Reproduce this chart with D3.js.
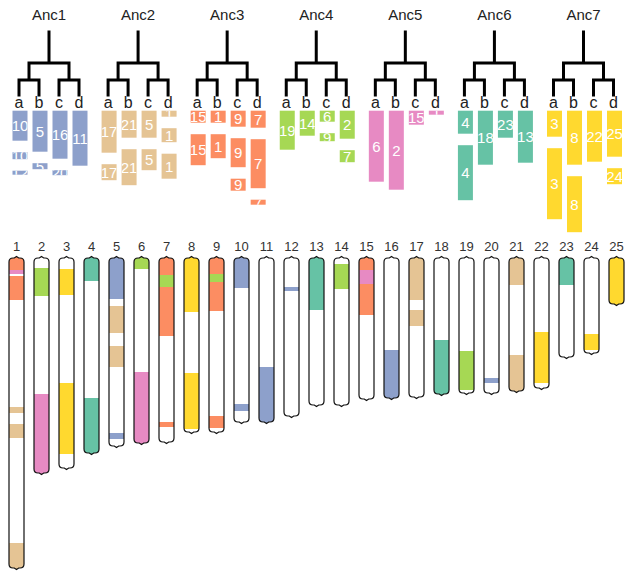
<!DOCTYPE html>
<html>
<head>
<meta charset="utf-8">
<script src="https://cdn.jsdelivr.net/npm/d3@7"></script>
<style>
  html, body { margin: 0; padding: 0; background: #fff; }
  svg { display: block; font-family: "Liberation Sans", Arial, Helvetica, sans-serif; }
</style>
</head>
<body>
<div id="chart"></div>
<script>
// ---------- data ----------
const chromosomes = ["1","2","3","4","5","6","7","8","9","10","11","12","13","14","15","16","17","18","19","20","21","22","23","24","25"];
const chromLengths = [310,215,210,195,188,185,184,174,174,164,164,158,147,147,141,140,139,136,135,135,133,130,99,95,46];

const ancestors = ["Anc1","Anc2","Anc3","Anc4","Anc5","Anc6","Anc7"];
const ancColors = ["#8DA0CB","#E5C494","#FC8D62","#A6D854","#E78AC3","#66C2A5","#FFD92F"];
const leafNames = ["a","b","c","d"];

// segments: [chromosome, ancestor, start, end]
const segAnc1 = [["5","Anc1",0,41],["5","Anc1",175,181],["10","Anc1",0,30],["10","Anc1",146,153],["11","Anc1",109,164],["12","Anc1",29,33],["16","Anc1",92,140],["20","Anc1",120,125]];
const segAnc2 = [["1","Anc2",149,155],["1","Anc2",166,180],["1","Anc2",285,310],["5","Anc2",48,75],["5","Anc2",88,109],["17","Anc2",0,42],["17","Anc2",52,68],["21","Anc2",0,27],["21","Anc2",97,133]];
const segAnc3 = [["1","Anc3",0,12],["1","Anc3",18,42],["7","Anc3",0,17],["7","Anc3",29,78],["7","Anc3",164,169],["9","Anc3",0,16],["9","Anc3",24,53],["9","Anc3",158,170],["15","Anc3",0,12],["15","Anc3",26,57]];
const segAnc4 = [["2","Anc4",10,38],["6","Anc4",0,11],["7","Anc4",17,29],["9","Anc4",16,24],["14","Anc4",6,31],["19","Anc4",93,132]];
const segAnc5 = [["1","Anc5",12,16],["2","Anc5",136,215],["6","Anc5",114,185],["15","Anc5",12,26]];
const segAnc6 = [["4","Anc6",0,23],["4","Anc6",140,195],["13","Anc6",0,52],["18","Anc6",82,136],["23","Anc6",0,27]];
const segAnc7 = [["3","Anc7",11,37],["3","Anc7",125,196],["8","Anc7",0,54],["8","Anc7",115,171],["22","Anc7",74,125],["24","Anc7",76,92],["25","Anc7",0,46]];

// which modern chromosomes make up each leaf (a,b,c,d) of each ancestor
const leavesAnc1 = [["10","12"],["5"],["16","20"],["11"]];
const leavesAnc2 = [["17"],["21"],["5"],["1"]];
const leavesAnc3 = [["15"],["1"],["9"],["7"]];
const leavesAnc4 = [["19"],["14"],["6","9"],["2","7"]];
const leavesAnc5 = [["6"],["2"],["15"],["1"]];
const leavesAnc6 = [["4"],["18"],["23"],["13"]];
const leavesAnc7 = [["3"],["8"],["22"],["25","24"]];

// ---------- derived tables ----------
const segments = [].concat(segAnc1, segAnc2, segAnc3, segAnc4, segAnc5, segAnc6, segAnc7)
  .map(d => ({chr: d[0], anc: d[1], start: d[2], end: d[3]}));
const leafTable = [leavesAnc1, leavesAnc2, leavesAnc3, leavesAnc4, leavesAnc5, leavesAnc6, leavesAnc7];

// ---------- layout ----------
const W = 633, H = 580;
const svg = d3.select("#chart").append("svg").attr("width", W).attr("height", H);
const defs = svg.append("defs");
const color = d3.scaleOrdinal().domain(ancestors).range(ancColors);

const unit = 1; // px per length unit
const chromX = d3.scalePoint().domain(chromosomes).range([16.5, 616.5]);
const chromTop = 258;
const yChrom = d3.scaleLinear().domain([0, 310]).range([chromTop, chromTop + 310 * unit]);
const chromW = 15;

// ---------- top: dendrograms ----------
const ancX = d3.scalePoint().domain(ancestors).range([49, 583.5]);
const leafX = d3.scalePoint().domain(leafNames).range([-30, 30]);
const levelY = [32, 63, 80, 95];
const blockTop = 110.7;
const blockGap = 11.5;
const yBlock = d3.scaleLinear().domain([0, 1]).range([0, unit]);
let clipId = 0;

ancestors.forEach((anc, ai) => {
  const cx = ancX(anc);
  const g = svg.append("g").attr("transform", `translate(${cx},0)`);

  g.append("text").attr("x", 0).attr("y", 20).attr("text-anchor", "middle")
    .attr("font-size", 15).attr("fill", "#222").text(anc);

  const root = d3.hierarchy({name: anc, children: [
    {name: "ab", children: [{name: "a"}, {name: "b"}]},
    {name: "cd", children: [{name: "c"}, {name: "d"}]}
  ]});
  root.leaves().forEach(l => l.x = leafX(l.data.name));
  root.eachAfter(n => { if (n.children) n.x = d3.mean(n.children, c => c.x); });

  const p = d3.path();
  p.moveTo(root.x, levelY[0]); p.lineTo(root.x, levelY[1]);
  root.descendants().forEach(n => {
    if (n.children) {
      const ys = levelY[n.depth + 1];
      p.moveTo(n.children[0].x, ys); p.lineTo(n.children[n.children.length - 1].x, ys);
      n.children.forEach(c => {
        const yEnd = c.children ? levelY[c.depth + 1] : levelY[3];
        p.moveTo(c.x, ys); p.lineTo(c.x, yEnd);
      });
    }
  });
  g.append("path").attr("d", p.toString()).attr("fill", "none")
    .attr("stroke", "#000").attr("stroke-width", 3).attr("stroke-linecap", "square");

  // leaf labels
  g.selectAll("text.leaf").data(root.leaves()).join("text").attr("class", "leaf")
    .attr("x", d => d.x).attr("y", 108).attr("text-anchor", "middle")
    .attr("font-size", 16).attr("fill", "#222").text(d => d.data.name);

  // blocks
  leafNames.forEach((ln, li) => {
    const chrs = leafTable[ai][li];
    const blocks = [];
    let y = blockTop;
    chrs.forEach(ch => {
      segments.filter(s => s.anc === anc && s.chr === ch)
        .sort((a, b) => a.start - b.start)
        .forEach(s => {
          const h = yBlock(s.end - s.start);
          blocks.push({chr: ch, y: y, h: h, id: "bc" + (clipId++)});
          y += h + blockGap;
        });
    });
    const bx = leafX(ln) + 1;
    blocks.forEach(b => {
      defs.append("clipPath").attr("id", b.id).append("rect")
        .attr("x", cx + bx - 7.5).attr("y", b.y).attr("width", 15).attr("height", b.h);
    });
    g.selectAll(null).data(blocks).join("rect")
      .attr("x", bx - 7.5).attr("y", d => d.y).attr("width", 15).attr("height", d => d.h)
      .attr("fill", color(anc));
    const tg = svg.append("g");
    tg.selectAll(null).data(blocks).join("g")
      .attr("clip-path", d => `url(#${d.id})`)
      .append("text")
      .attr("x", cx + bx).attr("y", d => d.y + d.h / 2).attr("dy", "0.36em")
      .attr("text-anchor", "middle").attr("font-size", 15).attr("fill", "#fff")
      .text(d => d.chr);
  });
});

// ---------- bottom: chromosomes ----------
function chromPath(cx, y0, y1) {
  const x0 = cx - chromW / 2, x1 = cx + chromW / 2, r = 4;
  const p = d3.path();
  p.moveTo(x0, y0 + r);
  p.quadraticCurveTo(x0, y0, x0 + r, y0);
  p.lineTo(cx - 2.2, y0);
  p.lineTo(cx, y0 - 1.6);
  p.lineTo(cx + 2.2, y0);
  p.lineTo(x1 - r, y0);
  p.quadraticCurveTo(x1, y0, x1, y0 + r);
  p.lineTo(x1, y1 - r);
  p.quadraticCurveTo(x1, y1, x1 - r, y1);
  p.lineTo(cx + 2.2, y1);
  p.lineTo(cx, y1 + 1.6);
  p.lineTo(cx - 2.2, y1);
  p.lineTo(x0 + r, y1);
  p.quadraticCurveTo(x0, y1, x0, y1 - r);
  p.closePath();
  return p.toString();
}

chromosomes.forEach((ch, i) => {
  const cx = chromX(ch);
  const y0 = yChrom(0), y1 = yChrom(chromLengths[i]);
  const d = chromPath(cx, y0, y1);
  defs.append("clipPath").attr("id", "clip" + ch).append("path").attr("d", d);

  const g = svg.append("g");
  g.append("text").attr("x", cx).attr("y", 251).attr("text-anchor", "middle")
    .attr("font-size", 13).attr("fill", "#333").text(ch);
  g.append("path").attr("d", d).attr("fill", "#fff");
  const segs = segments.filter(s => s.chr === ch);
  const top = s => s.start === 0 ? y0 - 3 : yChrom(s.start);
  const bot = s => s.end >= chromLengths[i] ? y1 + 3 : yChrom(s.end);
  g.append("g").attr("clip-path", `url(#clip${ch})`)
    .selectAll("rect").data(segs).join("rect")
    .attr("x", cx - chromW / 2 - 1).attr("width", chromW + 2)
    .attr("y", top)
    .attr("height", s => bot(s) - top(s))
    .attr("fill", s => color(s.anc));
  g.append("path").attr("d", d).attr("fill", "none").attr("stroke", "#111").attr("stroke-width", 1.2);
});
</script>
</body>
</html>
